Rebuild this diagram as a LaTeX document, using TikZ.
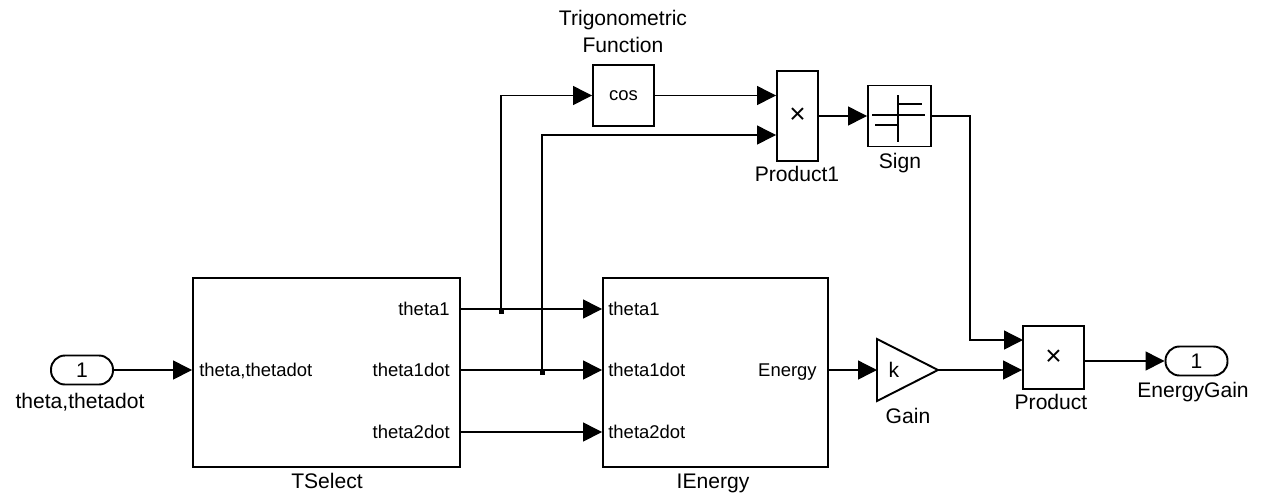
\documentclass[tikz,border=0pt]{standalone}
\usepackage{fontspec}
\setmainfont{Liberation Sans}
\usetikzlibrary{arrows.meta,positioning,calc}

\tikzset{
  blk/.style={draw, line width=1.1pt, inner sep=0pt, font=\fontsize{10.5}{12}\selectfont},
  port/.style={draw, line width=1.1pt, rounded corners=0.28cm, minimum width=1.24cm,
               minimum height=0.58cm, inner sep=0pt, font=\fontsize{12}{14}\selectfont},
  sig/.style={line width=0.75pt, -{Triangle[length=0.38cm,width=0.38cm]}},
  wire/.style={line width=0.75pt},
  lbl/.style={font=\fontsize{12}{14}\selectfont, anchor=base, inner sep=0pt},
  plbl/.style={font=\fontsize{10.5}{12}\selectfont, inner sep=0pt, text height=0.72em, text depth=0pt},
  jdot/.style={fill, inner sep=0pt, minimum size=0.1cm},
}

\begin{document}
\begin{tikzpicture}[x=0.02cm, y=-0.02cm]
 \useasboundingbox (0,0) rectangle (1268,495);

 % in and out ports
 \node[port] (in1) at (82,370) {1};
 \node[lbl] (in1-l) at (80,408) {theta,thetadot};
 \node[port] (out1) at (1196.5,361) {1};
 \node[lbl] (out1-l) at (1193,397) {EnergyGain};

 % subsystems
 \node[blk, minimum width=5.34cm, minimum height=3.78cm] (tsel) at (326.5,372.5) {};
 \node[lbl] (tsel-l) at (327,488) {TSelect};
 \node[blk, minimum width=4.5cm, minimum height=3.78cm] (ien) at (715.5,372.5) {};
 \node[lbl] (ien-l) at (713,488) {IEnergy};

 \node[plbl, anchor=west] (tsel-in) at (199,370) {theta,thetadot};
 \draw[sig] (in1.east) -- (in1.east -| tsel.west);

 \foreach \yy/\nm/\tx in {309/a/theta1, 370/b/theta1dot, 432/c/theta2dot}{
   \node[plbl, anchor=east] (tsel-\nm) at (450,\yy) {\tx};
   \node[plbl, anchor=west] (ien-\nm) at (608,\yy) {\tx};
   \coordinate (tsel-o\nm) at (460,\yy);
   \draw[sig] (tsel-o\nm) -- (tsel-o\nm -| ien.west);
 }
 \node[plbl, anchor=east] (ien-out) at (817,370) {Energy};

 % branch points
 \node[jdot] (jd1) at (501,311) {};
 \node[jdot] (jd2) at (542,372) {};

 % top row
 \node[blk, minimum width=1.22cm, minimum height=1.22cm] (cos) at (623.5,95.5) {cos};
 \node[lbl] (cos-l1) at (623,25) {Trigonometric};
 \node[lbl] (cos-l2) at (623,52) {Function};
 \node[blk, minimum width=0.82cm, minimum height=1.8cm, font=\fontsize{16}{16}\selectfont] (prod1) at (797.5,116) {×};
 \node[lbl] (prod1-l) at (797,181) {Product1};
 \node[blk, minimum width=1.26cm, minimum height=1.22cm] (sign) at (899.5,116) {};
 \node[lbl] (sign-l) at (900,168) {Sign};
 \begin{scope}[shift={(sign.center)}, line width=1.1pt]
   \draw (-27.5,-1) -- (25.5,-1);
   \draw (-1.5,-21) -- (-1.5,26);
   \draw (-1.5,-12) -- (22.5,-12);
   \draw (-24.5,9) -- (-1.5,9);
 \end{scope}

 \draw[sig] (jd1) |- (cos.west);
 \draw[sig] (jd2) |- ($(prod1.west)+(0,19)$);
 \draw[sig] (cos.east) -- (cos.east -| prod1.west);
 \draw[sig] (prod1.east) -- (sign.west);

 % gain and product
 \coordinate (gain-in) at (877,370);
 \coordinate (gain-out) at (938,370);
 \draw[line width=1.1pt] (877,339) -- (gain-out) -- (877,401) -- cycle;
 \node[font=\fontsize{12}{14}\selectfont] (gain-k) at (894,370) {k};
 \node[lbl] (gain-l) at (908,423) {Gain};
 \draw[sig] (ien.east |- gain-in) -- (gain-in);

 \node[blk, minimum width=1.22cm, minimum height=1.26cm, font=\fontsize{16}{16}\selectfont] (prod) at (1053.5,357.5) {×};
 \node[lbl] (prod-l) at (1051,409) {Product};
 \coordinate (prod-i1) at (1023,340);
 \coordinate (prod-o) at (1084,361);
 \draw[sig] (gain-out) -- (gain-out -| prod.west);
 \draw[sig] (sign.east) -- ++(38,0) |- (prod-i1);
 \draw[sig] (prod-o) -- (prod-o -| out1.west);
\end{tikzpicture}
\end{document}
